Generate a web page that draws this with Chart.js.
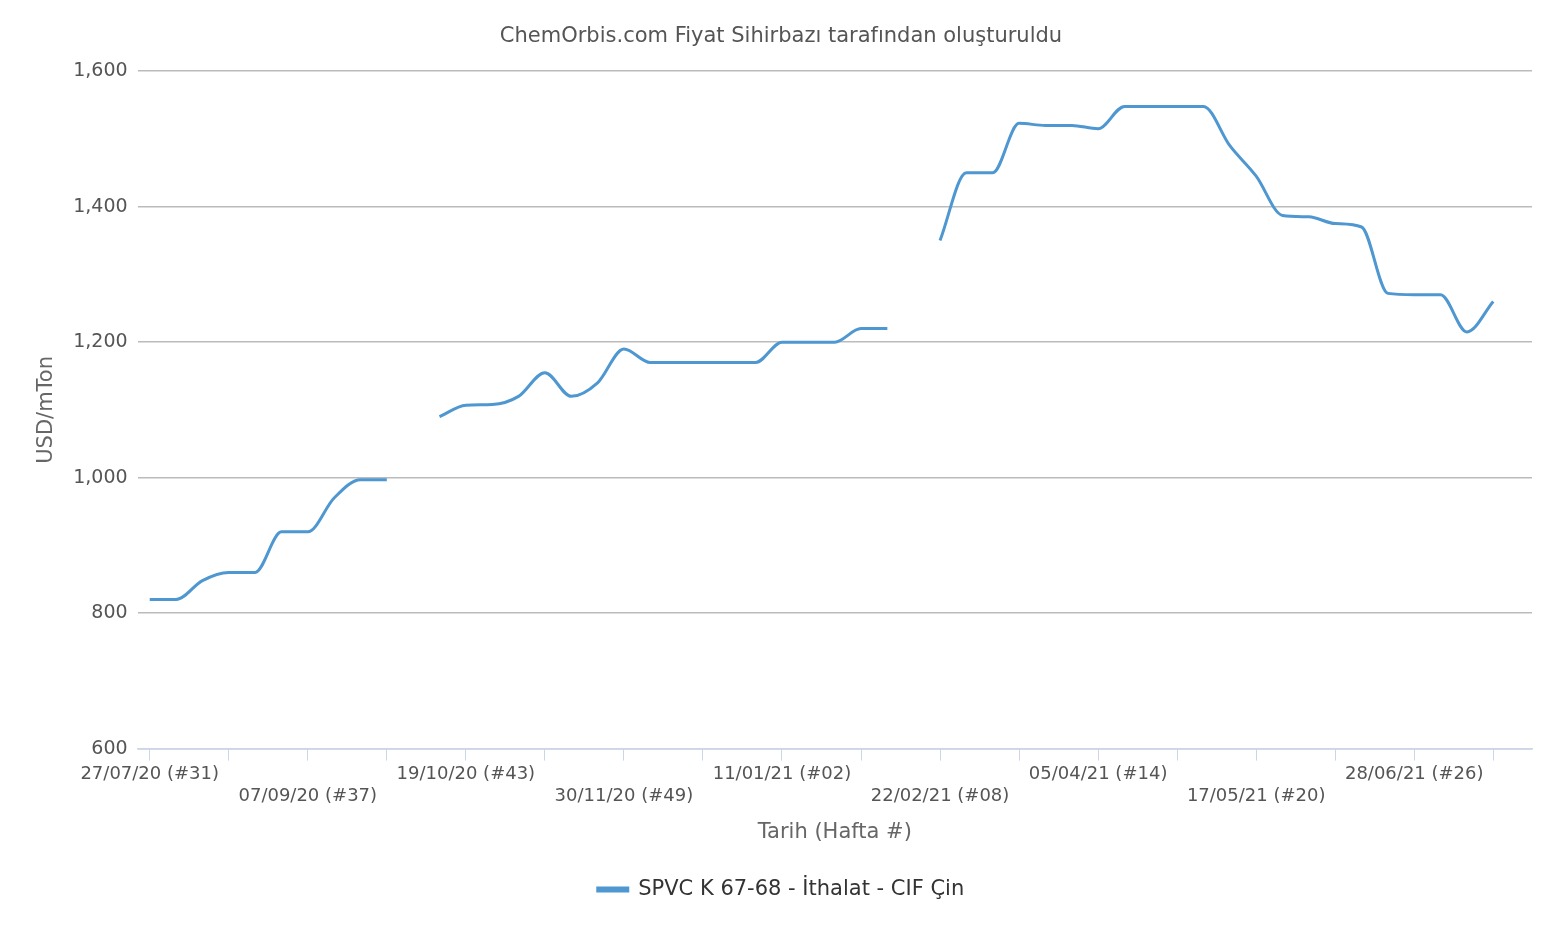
<!DOCTYPE html>
<html><head><meta charset="utf-8">
<script src="https://cdn.jsdelivr.net/npm/chart.js@4"></script>
<style>body{margin:0;background:#fff}</style>
</head><body><canvas id="c" width="1552" height="930"></canvas>
<script>
// tick labels, every 3 weeks (x = week index)
const tickWeeks = [0,3,6,9,12,15,18,21,24,27,30,33,36,39,42,45,48,51];
const tickLabels = ['27/07/20 (#31)','07/09/20 (#37)','19/10/20 (#43)','30/11/20 (#49)','11/01/21 (#02)','22/02/21 (#08)','05/04/21 (#14)','17/05/21 (#20)','28/06/21 (#26)'];
// weekly prices, null = no data
const prices = [820,820,848,860,860,920,920,970,997,997,null,1090,1107,1108,1120,1155,1120,1140,1190,1170,1170,1170,1170,1170,1200,1200,1200,1220,1220,null,1350,1450,1450,1523,1520,1520,1515,1548,1548,1548,1548,1490,1445,1387,1385,1375,1370,1272,1270,1270,1215,1260];

const pts = prices.map((v, i) => ({x: i, y: v}));

new Chart(document.getElementById('c'), {
    type: 'line',
    data: {datasets: [{
        label: 'SPVC K 67-68 - İthalat - CIF Çin',
        data: pts,
        borderColor: '#4e97d1',
        backgroundColor: '#4e97d1',
        borderWidth: 3,
        pointRadius: 0,
        cubicInterpolationMode: 'monotone',
        spanGaps: false
    }]},
    options: {
        responsive: false, animation: false, devicePixelRatio: 1,
        layout: {padding: {left: 30, right: 20, top: 10, bottom: 20}},
        plugins: {
            title: {display: true, text: 'ChemOrbis.com Fiyat Sihirbazı tarafından oluşturuldu', color: '#555', font: {family: 'DejaVu Sans', size: 21, weight: 'normal'}, padding: {top: 14, bottom: 22}},
            legend: {position: 'bottom', labels: {color: '#333', font: {family: 'DejaVu Sans', size: 21}, boxWidth: 30, boxHeight: 3, padding: 30}},
            tooltip: {enabled: false}
        },
        scales: {
            x: {
                type: 'linear', min: -0.46, max: 52.47,
                afterBuildTicks: (s) => { s.ticks = tickWeeks.map(v => ({value: v})); },
                ticks: {
                    autoSkip: false, maxRotation: 0, color: '#555', font: {family: 'DejaVu Sans', size: 18},
                    callback: (v, i) => i % 2 ? '' : (i % 4 === 0 ? [tickLabels[i / 2], ''] : ['', tickLabels[i / 2]])
                },
                grid: {display: true, drawOnChartArea: false, color: '#ccd6eb', tickLength: 12},
                border: {color: '#ccd6eb', width: 1.5},
                title: {display: true, text: 'Tarih (Hafta #)', color: '#666', font: {family: 'DejaVu Sans', size: 21}, padding: {top: 10}}
            },
            y: {
                min: 600, max: 1600,
                ticks: {stepSize: 200, color: '#555', font: {family: 'DejaVu Sans', size: 19}, padding: 10},
                grid: {color: '#bbb', lineWidth: 1.5, drawTicks: false},
                border: {display: false},
                title: {display: true, text: 'USD/mTon', color: '#666', font: {family: 'DejaVu Sans', size: 21}}
            }
        }
    }
});
</script></body></html>
